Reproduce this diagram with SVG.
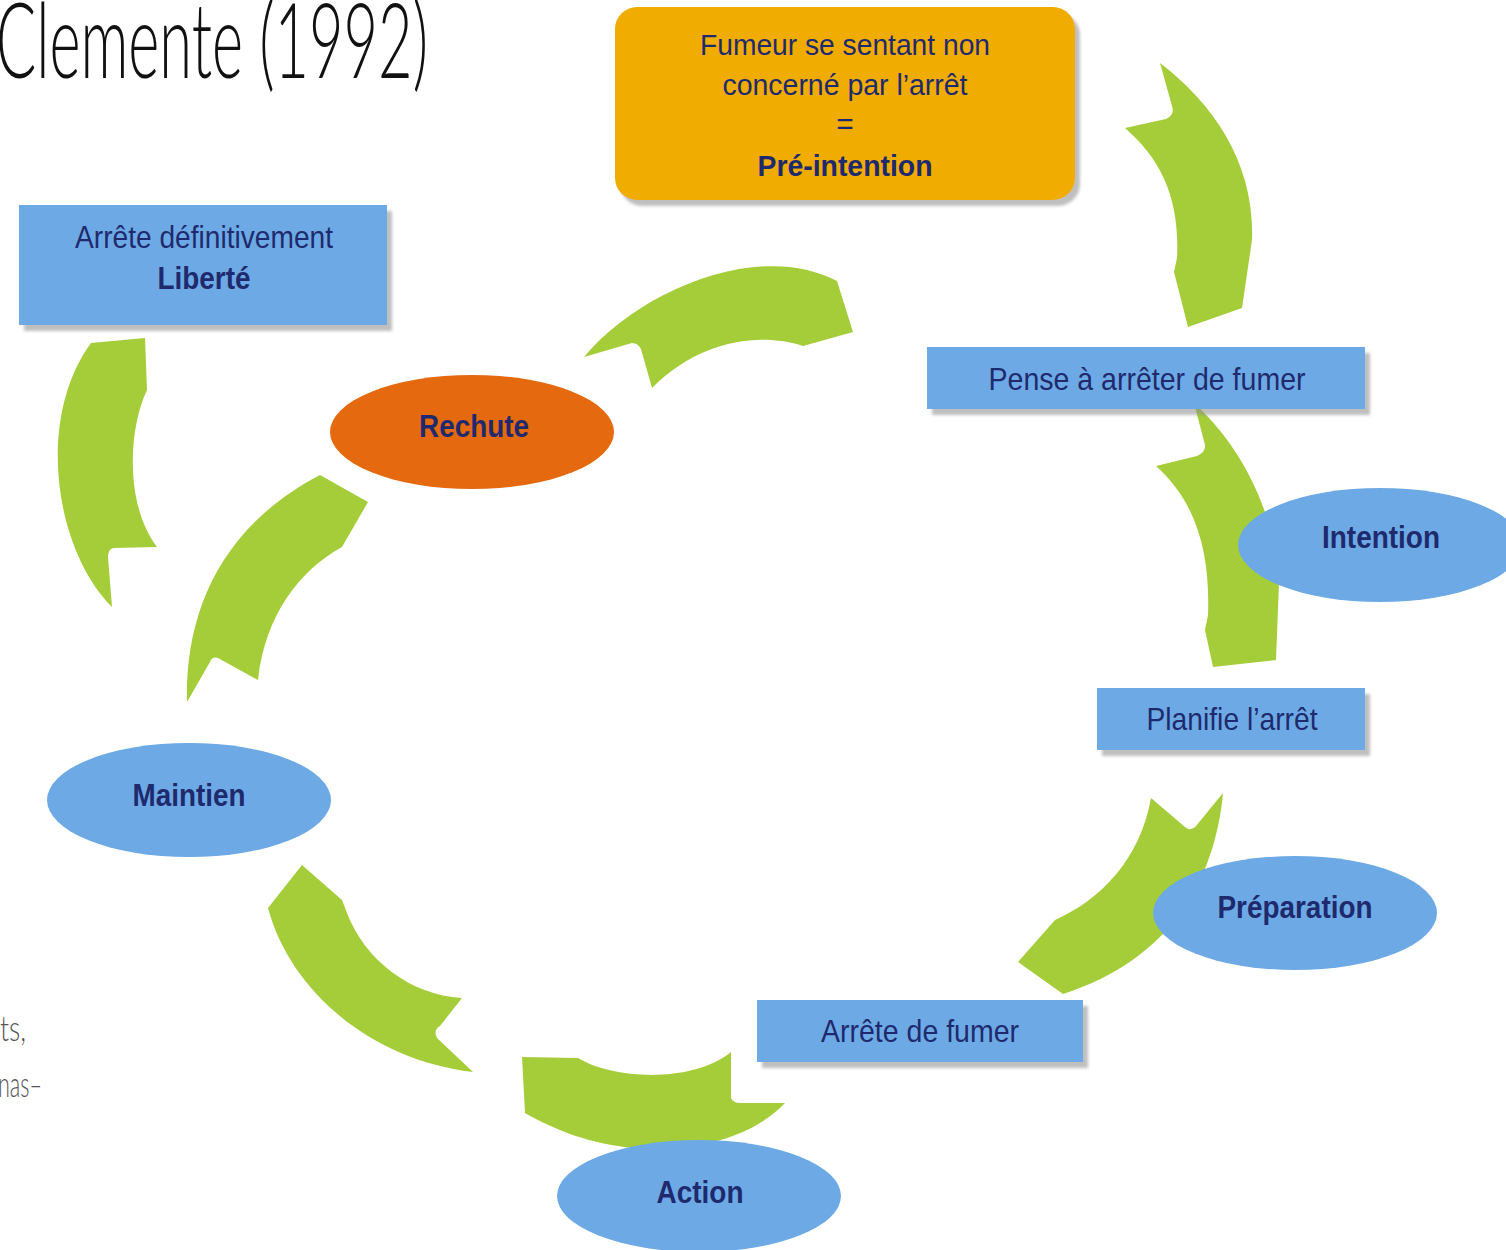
<svg xmlns="http://www.w3.org/2000/svg" width="1506" height="1250" viewBox="0 0 1506 1250">
<defs>
<filter id="sh" x="-10%" y="-10%" width="130%" height="140%"><feDropShadow dx="5" dy="6" stdDeviation="1.5" flood-color="#8a8a8a" flood-opacity="0.55"/></filter>
</defs>
<style>
.arrow{fill:#A4CD39}
.box{fill:#6DAAE5;filter:url(#sh)}
.ell{fill:#6DAAE5}
.t{font-family:"Liberation Sans",Arial,sans-serif;font-size:32px;fill:#1F2A6E;text-anchor:middle}
.o{font-size:30px}
.b{font-weight:bold}
.hand{font-family:Lato,"Liberation Sans",sans-serif;font-weight:300;fill:#111}
.frag{font-family:Lato,"Liberation Sans",sans-serif;font-weight:300;fill:#555;font-size:36px}
</style>
<rect width="1506" height="1250" fill="#fff"/>
<text class="hand" x="-4" y="78" font-size="104" textLength="432" lengthAdjust="spacingAndGlyphs">Clemente (1992)</text>
<text class="frag" x="0" y="1041" textLength="26" lengthAdjust="spacingAndGlyphs">ts,</text>
<text class="frag" x="-2" y="1097" textLength="44" lengthAdjust="spacingAndGlyphs">nas–</text>

<g id="connectors">
<path class="arrow" d="M1160,63 C1215,105 1255,165 1252,240 L1242,308 L1188,327 L1174,272 L1177,258 C1180,200 1162,160 1125,128 L1166,119 Q1175,115 1172,106 Z"/>
<path class="arrow" d="M1194,403 C1240,445 1275,510 1279,583 L1276,660 L1213,667 L1205,630 L1208,615 C1210,560 1200,505 1156,466 L1197,456 Q1206,452 1205,445 Z"/>
<path class="arrow" d="M1223,793 C1215,880 1170,960 1063,994 L1018,962 L1055,920 C1100,900 1140,860 1151,798 L1185,827 Q1191,832 1196,826 Z"/>
<path class="arrow" d="M522,1057 L578,1058 C610,1078 690,1085 731,1052 L731,1098 Q733,1103 740,1103 L785,1103 C750,1140 690,1152 634,1148 C590,1144 555,1130 525,1113 Z"/>
<path class="arrow" d="M302,865 L268,908 C290,990 370,1060 473,1072 L437,1038 Q433,1030 440,1026 L462,998 C410,995 365,960 347,913 L342,900 Z"/>
<path class="arrow" d="M320,475 L368,502 L342,547 C300,570 265,615 258,680 L218,658 Q212,656 210,662 L187,702 C185,620 215,530 320,475 Z"/>
<path class="arrow" d="M584,357 C640,290 760,240 837,281 L853,332 L803,346 C760,332 700,340 652,388 L641,349 Q638,343 632,343 Z"/>
<path class="arrow" d="M91,343 L145,338 L147,390 C128,430 125,505 157,547 L113,548 Q108,550 108,557 L112,607 C55,550 35,420 91,343 Z"/>
</g>

<g id="pre-intention">
<rect x="615" y="7" width="460" height="193" rx="22" fill="#F0AC00" filter="url(#sh)"/>
<text class="t o" x="845" y="55" textLength="290" lengthAdjust="spacingAndGlyphs">Fumeur se sentant non</text>
<text class="t o" x="845" y="95" textLength="245" lengthAdjust="spacingAndGlyphs">concerné par l’arrêt</text>
<text class="t o" x="845" y="134">=</text>
<text class="t o b" x="845" y="176" textLength="175" lengthAdjust="spacingAndGlyphs">Pré-intention</text>
</g>

<g id="pense">
<rect class="box" x="927" y="347" width="438" height="62"/>
<text class="t" x="1147" y="390" textLength="317" lengthAdjust="spacingAndGlyphs">Pense à arrêter de fumer</text>
</g>

<g id="intention">
<ellipse class="ell" cx="1380" cy="545" rx="142" ry="57"/>
<text class="t b" x="1381" y="548" textLength="118" lengthAdjust="spacingAndGlyphs">Intention</text>
</g>

<g id="planifie">
<rect class="box" x="1097" y="688" width="268" height="62"/>
<text class="t" x="1232" y="730" textLength="171" lengthAdjust="spacingAndGlyphs">Planifie l’arrêt</text>
</g>

<g id="preparation">
<ellipse class="ell" cx="1295" cy="913" rx="142" ry="57"/>
<text class="t b" x="1295" y="918" textLength="155" lengthAdjust="spacingAndGlyphs">Préparation</text>
</g>

<g id="arrete">
<rect class="box" x="757" y="1000" width="326" height="62"/>
<text class="t" x="920" y="1042" textLength="198" lengthAdjust="spacingAndGlyphs">Arrête de fumer</text>
</g>

<g id="action">
<ellipse class="ell" cx="699" cy="1196" rx="142" ry="56"/>
<text class="t b" x="700" y="1203" textLength="87" lengthAdjust="spacingAndGlyphs">Action</text>
</g>

<g id="maintien">
<ellipse class="ell" cx="189" cy="800" rx="142" ry="57"/>
<text class="t b" x="189" y="806" textLength="113" lengthAdjust="spacingAndGlyphs">Maintien</text>
</g>

<g id="rechute">
<ellipse cx="472" cy="432" rx="142" ry="57" fill="#E5690F"/>
<text class="t b" x="474" y="437" textLength="110" lengthAdjust="spacingAndGlyphs" fill="#262A7A">Rechute</text>
</g>

<g id="liberte">
<rect class="box" x="19" y="205" width="368" height="120"/>
<text class="t" x="204" y="248" textLength="258" lengthAdjust="spacingAndGlyphs">Arrête définitivement</text>
<text class="t b" x="204" y="289" textLength="93" lengthAdjust="spacingAndGlyphs">Liberté</text>
</g>
</svg>
